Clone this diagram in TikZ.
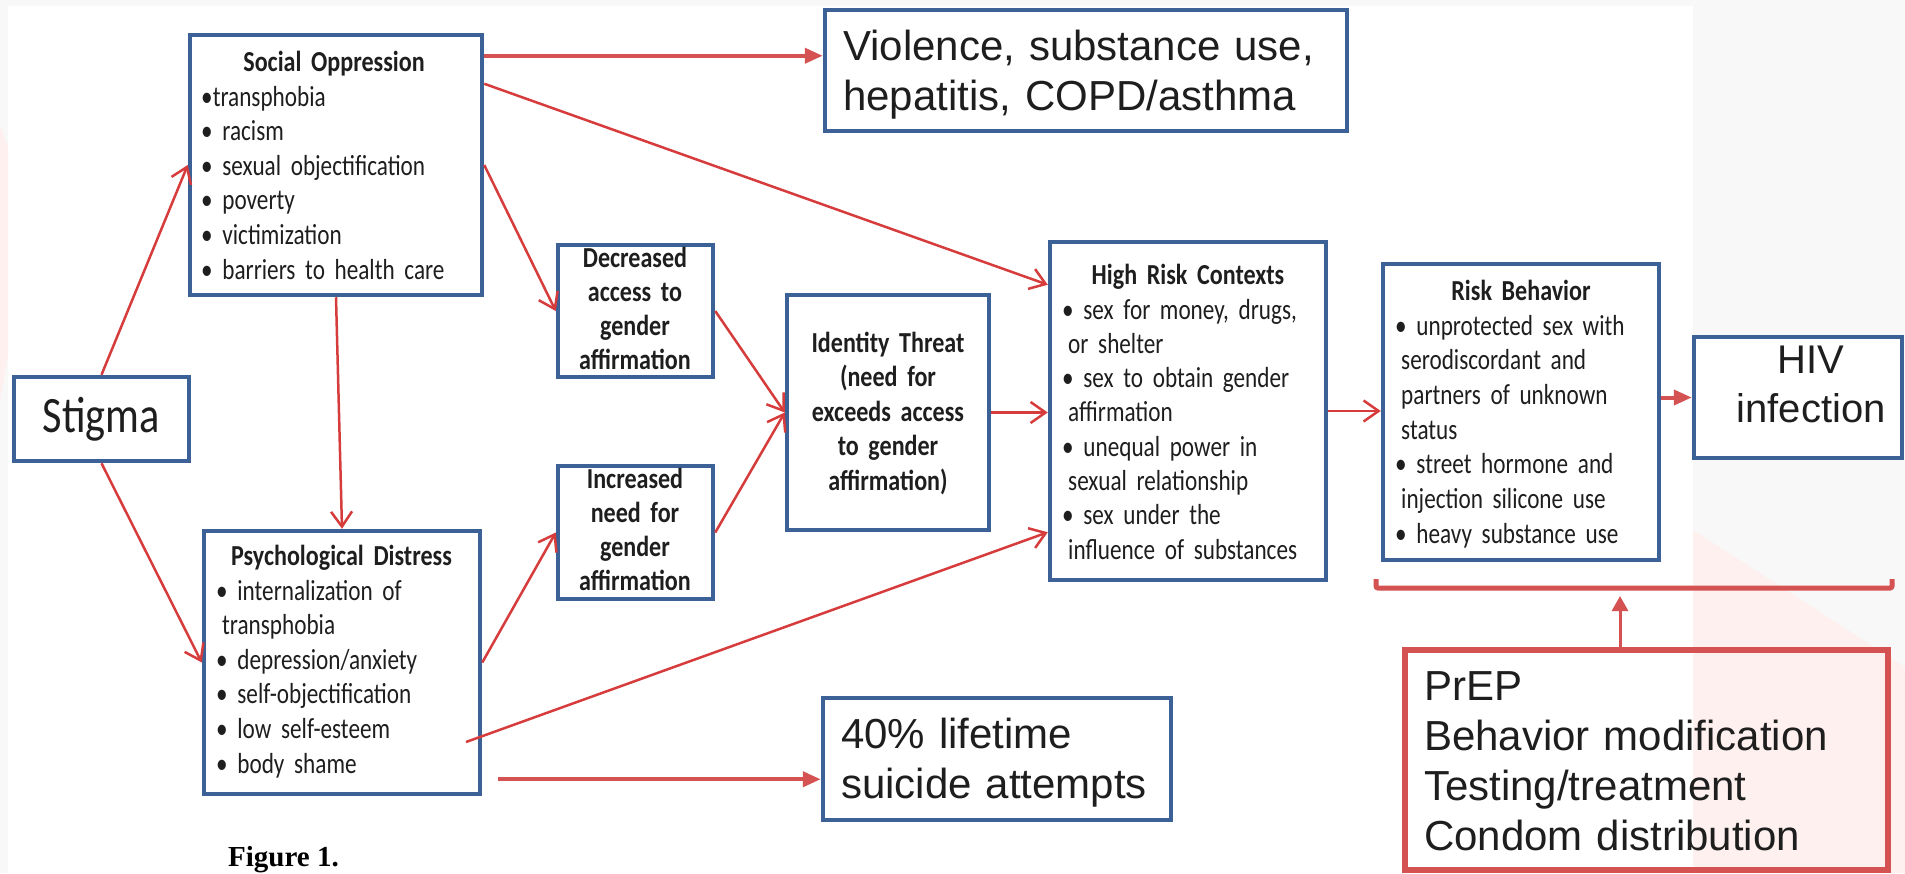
\documentclass[tikz,border=0pt]{standalone}
\usepackage{fontspec}
\usetikzlibrary{arrows.meta}
\newfontfamily\calfont[FakeStretch=0.80]{Carlito}
\newfontfamily\calhead[FakeStretch=0.83]{Carlito}
\newfontfamily\arialfont{Liberation Sans}
\newfontfamily\capfont{Liberation Serif}
\newcommand\bul{\leavevmode\kern-6pt•}
\definecolor{boxblue}{HTML}{3C6196}
\definecolor{linered}{HTML}{D63C3C}
\definecolor{pptred}{HTML}{D55252}
\definecolor{inktext}{HTML}{1E1E1E}
\definecolor{pagegrey}{HTML}{F8F8F9}
\definecolor{blush}{HTML}{FDF0EF}

\begin{document}
\begin{tikzpicture}[x=1pt,y=-1pt,
  box/.style={draw=boxblue, line width=4.5pt, fill=white, inner sep=0pt},
  redbox/.style={draw=pptred, line width=6pt, inner sep=0pt},
  etext/.style={inner sep=0pt, text=inktext, font=\calfont\fontsize{29}{34.6}\selectfont},
  ehead/.style={etext, font=\calhead\bfseries\fontsize{29}{34.6}\selectfont, anchor=base, text width=260pt, align=center},
  elist/.style={etext, anchor=base west, text width=275pt, align=left},
  big/.style={inner sep=0pt, text=inktext, font=\arialfont\fontsize{42}{50}\selectfont},
  flow/.style={draw=linered, line width=2.5pt, -{Straight Barb[length=15pt, width=21pt]}},
  ppt/.style={draw=pptred, line width=4pt, -{Triangle[length=18pt, width=15pt]}},
  pptthin/.style={draw=pptred, line width=3pt, -{Triangle[length=15pt, width=16pt]}},
  bracket/.style={draw=pptred, line width=5pt, rounded corners=2pt}
]
\useasboundingbox (0,0) rectangle (1905,873);
\clip (0,0) rectangle (1905,873);

% slide background
\fill[pagegrey] (0,0) rectangle (1905,873);
\fill[white] (8,6) rectangle (1693,873);
\fill[blush] (1693,530) -- (1905,667) -- (1905,873) -- (1693,873) -- cycle;
\fill[blush] (0,125) -- (8,147) -- (8,356) -- (0,400) -- cycle;

% boxes of the model
\node[box, minimum width=175pt, minimum height=84pt]  (stigma) at (101.5,419) {};
\node[box, minimum width=292pt, minimum height=260pt] (so)     at (336,165) {};
\node[box, minimum width=276pt, minimum height=263pt] (psych)  at (342,662.5) {};
\node[box, minimum width=155pt, minimum height=132pt] (dec)    at (635.5,311) {};
\node[box, minimum width=155pt, minimum height=133pt] (inc)    at (635.5,532.5) {};
\node[box, minimum width=202pt, minimum height=235pt] (ident)  at (888,412.5) {};
\node[box, minimum width=276pt, minimum height=338pt] (hrc)    at (1188,411) {};
\node[box, minimum width=276pt, minimum height=296pt] (rb)     at (1521,412) {};

% outcome boxes
\node[box, minimum width=208pt, minimum height=121pt] (hiv)  at (1798,397.5) {};
\node[box, minimum width=522pt, minimum height=121pt] (viol) at (1086,70.5) {};
\node[box, minimum width=348pt, minimum height=122pt] (sui)  at (997,759) {};
\node[redbox, minimum width=483pt, minimum height=220pt] (prep) at (1646.5,760) {};

% texts of the model
\node[etext, font=\calhead\fontsize{51}{60}\selectfont] (stigmaT) at (stigma.center) {Stigma};

\node[ehead] (soH) at (334,71) {Social Oppression};
\node[elist] (soL) at (207,106) {\bul transphobia\\\bul{} racism\\\bul{} sexual objectification\\\bul{} poverty\\\bul{} victimization\\\bul{} barriers to health care};

\node[ehead] (psychH) at (341.5,565) {Psychological Distress};
\node[elist] (psychL) at (222,600) {\bul{} internalization of\\transphobia\\\bul{} depression/anxiety\\\bul{} self-objectification\\\bul{} low self-esteem\\\bul{} body shame};

\node[ehead, text width=150pt, font=\calhead\bfseries\fontsize{29}{34.3}\selectfont] (decT) at (635,267) {Decreased\\access to\\gender\\affirmation};
\node[ehead, text width=150pt, font=\calhead\bfseries\fontsize{29}{34.3}\selectfont] (incT) at (635,488) {Increased\\need for\\gender\\affirmation};
\node[ehead, text width=195pt, font=\calhead\bfseries\fontsize{29}{34.5}\selectfont] (identT) at (888,352) {Identity Threat\\(need for\\exceeds access\\to gender\\affirmation)};

\node[ehead] (hrcH) at (1188,284) {High Risk Contexts};
\node[elist, font=\calfont\fontsize{29}{34.3}\selectfont] (hrcL) at (1068,319) {\bul{} sex for money, drugs,\\or shelter\\\bul{} sex to obtain gender\\affirmation\\\bul{} unequal power in\\sexual relationship\\\bul{} sex under the\\influence of substances};

\node[ehead] (rbH) at (1521,300) {Risk Behavior};
\node[elist, font=\calfont\fontsize{29}{34.7}\selectfont] (rbL) at (1401,335) {\bul{} unprotected sex with\\serodiscordant and\\partners of unknown\\status\\\bul{} street hormone and\\injection silicone use\\\bul{} heavy substance use};

% outcome and intervention texts
\node[big, anchor=base west, text width=500pt, align=left] (violT) at (843,60) {Violence, substance use,\\hepatitis, COPD/asthma};
\node[big, anchor=base west, text width=330pt, align=left] (suiT) at (841,748) {40\% lifetime\\suicide attempts};
\node[big, anchor=base, text width=200pt, align=center, font=\arialfont\fontsize{40}{49}\selectfont] (hivT) at (1811,373) {HIV\\infection};
\node[big, anchor=base west, text width=460pt, align=left, font=\arialfont\fontsize{42}{50.3}\selectfont] (prepT) at (1424,700) {PrEP\\Behavior modification\\Testing/treatment\\Condom distribution};

\node[inner sep=0pt, anchor=base west, font=\capfont\bfseries\fontsize{29}{34}\selectfont] (caption) at (228,866) {Figure 1.};

% pathways of the model
\draw[flow] (stigma.north) -- (so.west);
\draw[flow] (stigma.south) -- (psych.west);
\draw[flow] (so.south) -- (psych.north);
\draw[flow] (so.east) -- (dec.west);
\draw[flow] ([yshift=-51pt]so.north east) -- ([yshift=-45pt]hrc.north west);
\draw[flow] (dec.east) -- (ident.west);
\draw[flow] (inc.east) -- (ident.west);
\draw[flow] (psych.east) -- (inc.west);
\coordinate (psychOut) at (466,742);
\draw[flow] (psychOut) -- ([yshift=50pt]hrc.south west);
\draw[flow] (ident.east) -- (ident.east -| hrc.west);
\draw[flow] (hrc.east) -- (hrc.east -| rb.west);

% arrows to outcomes
\coordinate (soV) at ([yshift=-23pt]so.north east);
\draw[ppt] (soV) -- (soV -| viol.west);
\coordinate (psS) at ([shift={(16pt,17pt)}]psych.south east);
\draw[ppt] (psS) -- (psS -| sui.west);
\draw[ppt] (hiv.west -| rb.east) -- (hiv.west);

% interventions acting on the risk stage
\draw[bracket] (1376,579) -- (1376,588) -- (1892,588) -- (1892,579);
\coordinate (prepA) at ([xshift=-26.5pt]prep.north);
\coordinate (brkTip) at (1620,596);
\draw[pptthin] (prepA) -- (brkTip);
\end{tikzpicture}
\end{document}
